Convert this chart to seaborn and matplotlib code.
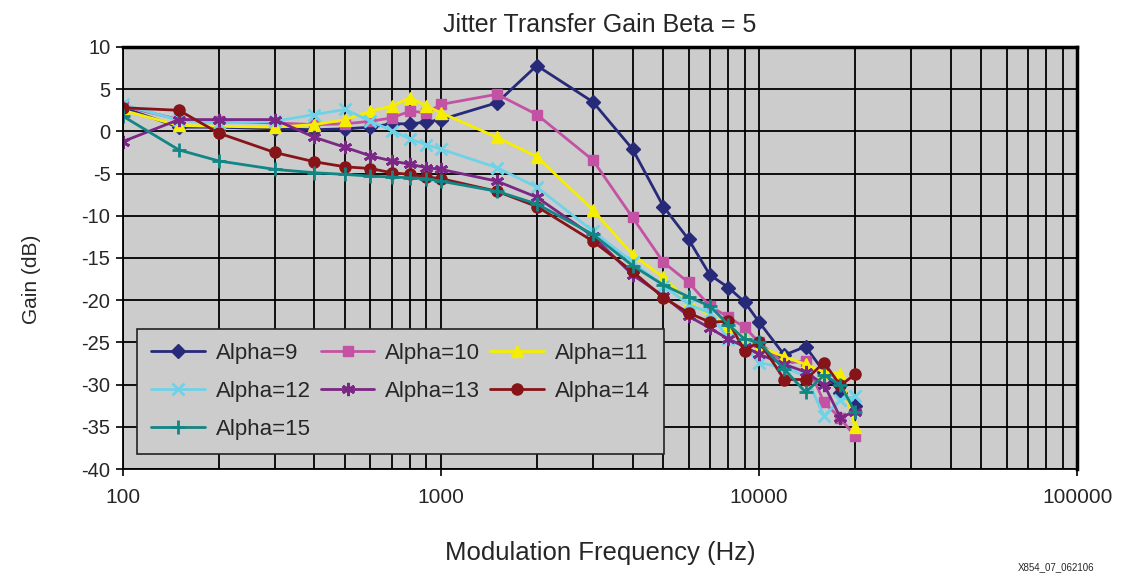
import numpy as np
import pandas as pd
import matplotlib
matplotlib.use("Agg")
import matplotlib.pyplot as plt
import seaborn as sns
from matplotlib.ticker import FixedLocator, NullFormatter, FixedFormatter

freq = [100, 150, 200, 300, 400, 500, 600, 700, 800, 900, 1000, 1500, 2000,
        3000, 4000, 5000, 6000, 7000, 8000, 9000, 10000, 12000, 14000, 16000,
        18000, 20000]

alpha9 = [2.8, 0.5, 0.5, 0.3, 0.2, 0.3, 0.5, 0.9, 0.9, 1.1, 1.4, 3.4, 7.8,
          3.5, -2.1, -8.9, -12.8, -17.0, -18.5, -20.2, -22.6, -26.5, -25.5,
          -28.5, -31.0, -32.5]
alpha10 = [3.0, 1.4, 1.2, 1.0, 0.8, 0.9, 1.2, 1.6, 2.4, 2.2, 3.2, 4.4, 2.0,
           -3.4, -10.2, -15.5, -17.9, -20.7, -22.0, -23.2, -25.0, -27.5, -27.2,
           -32.1, -34.0, -36.1]
alpha11 = [2.5, 0.7, 0.6, 0.5, 0.8, 1.4, 2.4, 3.0, 4.0, 3.0, 2.2, -0.7, -3.0,
           -9.3, -14.6, -17.3, -20.2, -21.8, -23.0, -24.5, -25.5, -26.7, -27.6,
           -28.5, -28.7, -35.0]
alpha12 = [3.2, 1.3, 1.0, 1.2, 2.0, 2.6, 1.2, 0.1, -0.9, -1.6, -2.1, -4.3, -6.6,
           -11.8, -15.5, -18.3, -20.5, -21.5, -24.6, -25.5, -27.4, -28.0, -29.0,
           -33.7, -31.8, -31.4]
alpha13 = [-1.2, 1.4, 1.4, 1.4, -0.7, -1.9, -2.9, -3.5, -3.9, -4.3, -4.5, -5.9,
           -7.8, -12.4, -17.0, -19.5, -21.9, -23.3, -24.6, -25.5, -26.4, -27.6,
           -28.5, -30.0, -33.9, -33.2]
alpha14 = [2.8, 2.5, -0.2, -2.5, -3.6, -4.2, -4.4, -4.9, -5.1, -5.4, -5.6, -7.1,
           -8.9, -13.0, -16.6, -19.7, -21.5, -22.6, -22.5, -26.0, -24.9, -29.4,
           -29.4, -27.4, -30.1, -28.8]
alpha15 = [1.8, -2.2, -3.5, -4.5, -4.9, -5.1, -5.3, -5.4, -5.5, -5.6, -5.9, -7.1,
           -8.6, -12.2, -15.9, -18.2, -19.6, -20.7, -22.9, -24.6, -25.0, -28.2,
           -30.9, -28.9, -30.0, -33.2]

series_names = ["Alpha=9", "Alpha=10", "Alpha=11", "Alpha=12", "Alpha=13",
                "Alpha=14", "Alpha=15"]
series_values = [alpha9, alpha10, alpha11, alpha12, alpha13, alpha14, alpha15]

x_ticks = [100, 1000, 10000, 100000]
x_tick_labels = ["100", "1000", "10000", "100000"]
y_ticks = list(range(-40, 11, 5))

colors = ["#262a78", "#c452a4", "#f5ee00", "#70d2e6", "#7b2785", "#861418",
          "#128585"]
markers = ["D", "s", "^", "x", (6, 2, 0), "o", "+"]
msizes = [7, 7, 8.5, 8.5, 9.5, 8, 10]
mews = [1, 1, 1, 2, 2, 1, 2]

sns.set_theme(style="white")
plt.rcParams["font.family"] = ["Liberation Sans", "DejaVu Sans"]
plt.rcParams["axes.unicode_minus"] = False

fig = plt.figure(figsize=(11.28, 5.73), dpi=100)
ax = fig.add_axes([0.109, 0.1815, 0.846, 0.7365])
ax.set_facecolor("#cccccc")

rows = []
for name, vals in zip(series_names, series_values):
    for f, v in zip(freq, vals):
        rows.append({"freq": f, "gain": v, "series": name})
df = pd.DataFrame(rows)

for name, c, m, ms, mw in zip(series_names, colors, markers, msizes, mews):
    sub = df[df["series"] == name]
    sns.lineplot(data=sub, x="freq", y="gain", ax=ax, color=c, marker=m,
                 markersize=ms, markeredgecolor=c, markeredgewidth=mw,
                 linewidth=2, label=name, sort=False, estimator=None)

ax.set_xscale("log")
ax.set_xlim(100, 100000)
ax.set_ylim(-40, 10)
ax.xaxis.set_major_locator(FixedLocator(x_ticks))
ax.xaxis.set_major_formatter(FixedFormatter(x_tick_labels))
minor = [m * 10 ** e for e in range(2, 5) for m in range(2, 10)]
ax.xaxis.set_minor_locator(FixedLocator(minor))
ax.xaxis.set_minor_formatter(NullFormatter())
ax.set_yticks(y_ticks)
ax.grid(True, which="major", color="black", linewidth=1.3)
ax.grid(True, which="minor", axis="x", color="black", linewidth=1.3)
ax.set_axisbelow(True)
for s in ax.spines.values():
    s.set_color("black")
    s.set_linewidth(1.3)
ax.spines["top"].set_linewidth(2.5)
ax.spines["right"].set_linewidth(2.5)

ax.tick_params(axis="y", which="both", left=True, length=5, width=1.2,
               color="black", labelsize=14.5, pad=4, direction="out")
ax.tick_params(axis="x", which="major", bottom=True, length=5, width=1.2,
               color="black", labelsize=15, pad=9, direction="out")
ax.tick_params(axis="x", which="minor", bottom=False)

ax.set_xlabel("Modulation Frequency (Hz)", fontsize=18.5)
ax.xaxis.set_label_coords(0.5, -0.17)
ax.set_ylabel("Gain (dB)", fontsize=15)
ax.yaxis.set_label_coords(-0.086, 0.45)
ax.set_title("Jitter Transfer Gain Beta = 5", fontsize=18, pad=11)

handles, labels = ax.get_legend_handles_labels()
order = [0, 3, 6, 1, 4, 2, 5]
leg = ax.legend([handles[i] for i in order], [labels[i] for i in order],
                loc="lower left", bbox_to_anchor=(0.0147, 0.0355),
                borderaxespad=0, ncol=3, fontsize=16, frameon=True,
                fancybox=False, facecolor="#cccccc", edgecolor="#222222",
                handlelength=2.4, columnspacing=0.45, handletextpad=0.5,
                labelspacing=0.75, borderpad=0.65)
leg.get_frame().set_linewidth(1.2)
leg.get_frame().set_alpha(1)

fig.text(0.936, 0.001, "X854_07_062106", fontsize=7, ha="center", va="bottom")

fig.savefig("out.png", dpi=100)
